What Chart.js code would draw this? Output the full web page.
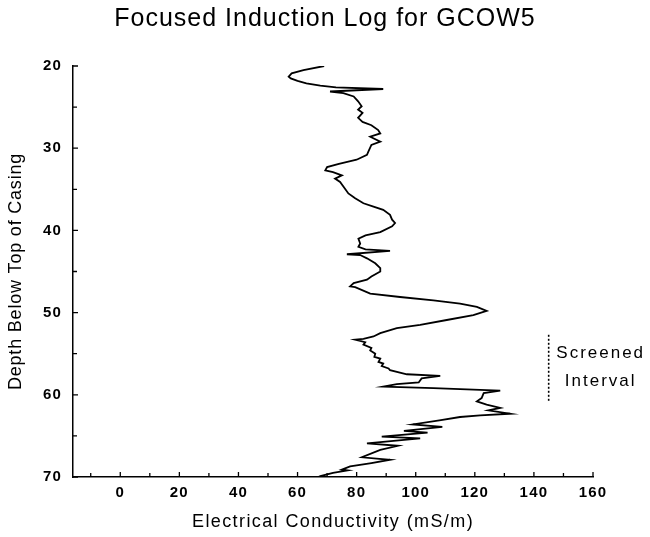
<!DOCTYPE html>
<html>
<head>
<meta charset="utf-8">
<script src="https://cdn.jsdelivr.net/npm/chart.js@4/dist/chart.umd.min.js"></script>
<style>
  html, body { margin: 0; padding: 0; background: #fff; }
  #c { display: block; }
</style>
</head>
<body>
<canvas id="c" width="650" height="537"></canvas>
<script>
// ---- data ----
const depth = [20.0, 20.5, 20.9, 21.3, 21.5, 21.8, 22.1, 22.4, 22.6, 22.8, 23.1, 23.3, 23.7, 24.3, 24.9, 25.3, 25.7, 26.3, 26.8, 27.2, 27.8, 28.2, 28.6, 29.2, 29.6, 30.4, 30.8, 31.4, 31.9, 32.3, 32.7, 32.9, 33.3, 33.7, 34.1, 34.9, 35.5, 36.1, 36.7, 37.1, 37.5, 38.1, 38.7, 39.1, 39.5, 40.2, 40.6, 41.0, 41.6, 42.0, 42.3, 42.5, 42.9, 43.0, 43.4, 44.0, 44.6, 45.0, 45.6, 46.0, 46.4, 46.8, 46.9, 47.7, 48.1, 48.5, 48.9, 49.3, 49.8, 50.3, 50.9, 51.5, 51.9, 52.5, 52.9, 53.2, 53.3, 53.6, 53.9, 54.3, 54.6, 55.0, 55.4, 55.6, 56.0, 56.2, 56.5, 56.8, 57.0, 57.5, 57.7, 58.0, 58.5, 58.7, 59.0, 59.2, 59.5, 59.8, 60.4, 60.8, 61.2, 61.6, 61.9, 62.3, 62.5, 62.7, 63.1, 63.6, 63.9, 64.4, 64.6, 65.1, 65.3, 65.9, 66.2, 66.7, 67.6, 67.9, 68.3, 68.7, 69.1, 69.2, 69.5, 69.9, 70.0];
const conductivity = [69, 62, 58, 57, 57.7, 60, 63, 67.7, 73, 89, 71, 75.5, 79, 80.5, 81.7, 80.5, 82, 80.5, 82, 85, 87.3, 88, 84.6, 88, 85, 84, 83.5, 80, 74, 70, 69.4, 72, 75, 72.7, 74.4, 76, 77.2, 79.5, 82.3, 85.7, 89, 91.3, 92, 93, 92, 88, 83, 80.6, 81.2, 80.6, 83, 91.3, 76.7, 81.2, 83.5, 86.3, 88, 88, 85, 83.5, 79, 77.8, 79.5, 84.6, 94.7, 106, 115, 120.7, 124, 119.5, 110.5, 101.5, 93.6, 88, 85.7, 82.3, 79.5, 82.9, 82.3, 85, 84.6, 86.3, 86, 88, 87.4, 89, 88.5, 90.8, 91.3, 97, 108.3, 102, 101, 93.6, 89, 106, 128.6, 123, 122.3, 120.7, 124, 128.6, 124.6, 132, 121.8, 115, 108, 99, 109, 96, 104, 88.5, 101.5, 83.5, 94, 88, 81.8, 91.3, 85, 77.8, 75, 77, 72, 67.7, 67];

const screenedX = [145, 145];
const screenedDepth = [52.7, 60.8];
const screenedLabel = ["Screened", "Interval"];
const screenedLabelDepth = [54.9, 58.3];

const xMajorTicks = [0, 20, 40, 60, 80, 100, 120, 140, 160];
const xMinorTicks = [-10, 10, 30, 50, 70, 90, 110, 130, 150];
const yMajorTicks = [20, 30, 40, 50, 60, 70];
const yMinorTicks = [25, 35, 45, 55, 65];

const chartTitle = "Focused Induction Log for GCOW5";
const xTitle = "Electrical Conductivity (mS/m)";
const yTitle = "Depth Below Top of Casing";

// ---- build ----
const FONT = "'Liberation Sans', Arial, Helvetica, sans-serif";
const curve = depth.map((d, i) => ({ x: conductivity[i], y: d }));
const screen = screenedX.map((v, i) => ({ x: v, y: screenedDepth[i] }));

function wrapSpacing(obj, name, sp, chart) {
  if (!obj || obj['_ws_' + name]) return;
  const orig = obj[name];
  obj[name] = function (...a) {
    const c = this.ctx || chart.ctx;
    c.save();
    c.letterSpacing = sp;
    const r = orig.apply(this, a);
    c.restore();
    return r;
  };
  obj['_ws_' + name] = true;
}

const decor = {
  id: 'decor',
  afterLayout(chart) {
    wrapSpacing(chart.titleBlock, 'draw', '1px', chart);
    wrapSpacing(chart.scales.x, 'drawTitle', '1.4px', chart);
    wrapSpacing(chart.scales.y, 'drawTitle', '0.8px', chart);
  },
  beforeDraw(chart) {
    chart.ctx.letterSpacing = '1.2px';
  },
  afterDraw(chart) {
    const ctx = chart.ctx;
    const xs = chart.scales.x, ys = chart.scales.y;
    const ca = chart.chartArea;
    ctx.save();
    ctx.strokeStyle = '#000';
    ctx.lineWidth = 1.3;
    ctx.beginPath();
    xMajorTicks.forEach(v => { const p = xs.getPixelForValue(v); ctx.moveTo(p, ca.bottom); ctx.lineTo(p, ca.bottom - 5); });
    xMinorTicks.forEach(v => { const p = xs.getPixelForValue(v); ctx.moveTo(p, ca.bottom); ctx.lineTo(p, ca.bottom - 4); });
    yMajorTicks.forEach(v => { const p = ys.getPixelForValue(v); ctx.moveTo(ca.left, p); ctx.lineTo(ca.left + 5, p); });
    yMinorTicks.forEach(v => { const p = ys.getPixelForValue(v); ctx.moveTo(ca.left, p); ctx.lineTo(ca.left + 4, p); });
    ctx.stroke();

    // screened interval label
    ctx.letterSpacing = '2px';
    ctx.fillStyle = '#000';
    ctx.font = "17px " + FONT;
    ctx.textAlign = 'center';
    ctx.textBaseline = 'middle';
    const cx = xs.getPixelForValue(screenedX[0]) + 52;
    screenedLabel.forEach((t, i) => ctx.fillText(t, cx, ys.getPixelForValue(screenedLabelDepth[i])));
    ctx.restore();
  }
};

new Chart(document.getElementById('c'), {
  type: 'scatter',
  data: {
    datasets: [
      { data: curve, showLine: true, borderColor: '#000', borderWidth: 1.8, pointRadius: 0, tension: 0, fill: false },
      { data: screen, showLine: true, borderColor: '#000', borderWidth: 1.6, borderDash: [2, 2], pointRadius: 0, fill: false }
    ]
  },
  options: {
    responsive: false,
    animation: false,
    layout: { padding: { left: 0, right: 0, top: 0, bottom: 0 } },
    plugins: {
      legend: { display: false },
      tooltip: { enabled: false },
      title: {
        display: true, text: chartTitle, color: '#000',
        font: { family: FONT, size: 25, weight: 'normal' },
        padding: { top: 4, bottom: 32 }
      }
    },
    scales: {
      x: {
        type: 'linear', position: 'bottom', min: -16, max: 160,
        afterBuildTicks: s => { s.ticks = xMajorTicks.map(v => ({ value: v })); },
        afterFit: s => { s.height = 60; },
        grid: { display: false, drawTicks: false },
        border: { display: true, color: '#000', width: 1.5 },
        ticks: { color: '#000', padding: 7, maxRotation: 0, autoSkip: false, font: { family: FONT, size: 15, weight: 'bold' } },
        title: { display: true, text: xTitle, color: '#000', font: { family: FONT, size: 18 }, padding: { top: 0, bottom: 4 } }
      },
      y: {
        type: 'linear', position: 'left', reverse: true, min: 20, max: 70,
        afterBuildTicks: s => { s.ticks = yMajorTicks.map(v => ({ value: v })); },
        afterFit: s => { s.width = 73; },
        grid: { display: false, drawTicks: false },
        border: { display: true, color: '#000', width: 1.5 },
        ticks: { color: '#000', padding: 11, autoSkip: false, font: { family: FONT, size: 15, weight: 'bold' } },
        title: { display: true, text: yTitle, color: '#000', font: { family: FONT, size: 18 }, padding: { top: 5, bottom: 0 } }
      },
      yRight: {
        type: 'linear', position: 'right', display: true,
        afterFit: s => { s.width = 57; },
        grid: { display: false, drawTicks: false },
        border: { display: false },
        ticks: { display: false },
        title: { display: false }
      }
    }
  },
  plugins: [decor]
});
</script>
</body>
</html>
